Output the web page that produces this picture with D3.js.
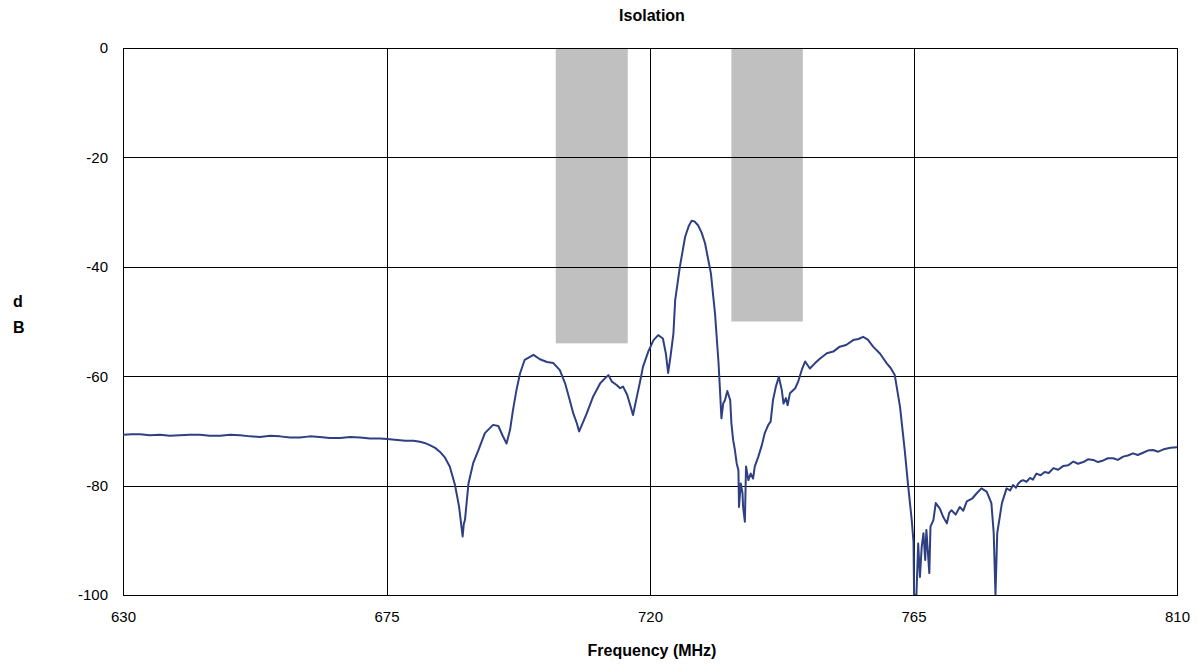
<!DOCTYPE html>
<html>
<head>
<meta charset="utf-8">
<script src="https://cdn.jsdelivr.net/npm/d3@7/dist/d3.min.js"></script>
<style>
  body { margin: 0; background: #fff; }
  svg { display: block; font-family: "Liberation Sans", Arial, sans-serif; }
  .tick text { font-size: 15px; fill: #000; }
  .title { font-size: 16px; font-weight: bold; }
</style>
</head>
<body>
<svg id="chart"></svg>
<script>
const freqMHz = [
  630.0, 631.5, 632.9, 634.6, 636.3, 638.0, 639.7, 641.4, 643.1, 644.8,
  646.6, 648.3, 650.0, 651.7, 653.4, 655.1, 656.8, 658.5, 660.2, 661.9,
  663.6, 665.3, 667.1, 668.8, 670.5, 672.2, 673.9, 675.1, 676.4, 678.2,
  679.6, 680.7, 681.5, 682.4, 683.3, 684.1, 685.0, 685.8, 686.7, 687.4,
  687.7, 688.0, 688.2, 688.4, 689.0, 689.8, 690.7, 691.8, 693.2, 694.1,
  694.8, 695.5, 696.1, 696.6, 697.2, 697.8, 698.6, 700.1, 701.2, 702.4,
  703.5, 704.6, 705.5, 706.3, 706.9, 707.5, 707.9, 708.3, 709.2, 710.3,
  711.5, 712.3, 712.9, 713.5, 714.3, 714.9, 715.4, 716.1, 716.7, 717.1,
  717.7, 718.3, 718.8, 719.7, 720.6, 721.4, 722.2, 722.7, 723.1, 723.5,
  724.0, 724.3, 725.1, 726.0, 726.6, 727.1, 727.6, 728.2, 728.8, 729.4,
  730.4, 731.1, 731.7,
  731.95, 732.2, 732.5, 732.8, 733.2, 733.7, 733.9, 734.2, 734.5, 734.8,
  735.1, 735.2, 735.5, 735.8, 735.9, 736.2, 736.4, 736.8, 737.2, 737.6,
  737.9, 738.5, 739.1, 739.6, 740.2, 740.6, 741.0, 741.5, 742.0, 742.5,
  742.8, 743.2, 743.5, 743.9, 744.8, 745.3, 745.9, 746.5, 747.3, 748.2,
  749.0, 750.2, 751.3, 752.4, 753.5, 754.7, 755.6, 756.4, 757.2, 758.1,
  759.3, 760.4, 761.1, 761.8, 762.7, 763.5, 764.1, 764.7, 765.0, 765.1,
  765.5, 765.8, 766.1, 766.4, 766.7, 767.0, 767.2, 767.7, 767.9, 768.4,
  768.8, 769.5, 770.1, 770.7, 771.1, 771.5, 772.2, 772.9, 773.5, 774.1,
  775.0, 775.8, 776.6, 777.5, 778.3, 778.7, 779.0, 779.3, 780.1, 780.9,
  781.5, 782.0, 782.5, 782.9, 783.3, 783.7, 784.3, 784.9, 785.4, 786.0,
  786.7, 787.4, 788.1, 788.9, 789.7, 790.6, 791.4, 792.3, 793.1, 794.0,
  794.8, 795.7, 796.5, 797.4, 798.2, 799.1, 799.9, 800.8, 801.6, 802.5,
  803.3, 804.2, 805.0, 805.9, 806.8, 807.9, 808.9, 810.0
];
const isolationDb = [
  -70.7, -70.6, -70.6, -70.8, -70.7, -70.9, -70.8, -70.7, -70.7, -70.9,
  -70.9, -70.7, -70.8, -71.0, -71.1, -70.9, -71.0, -71.2, -71.2, -71.0,
  -71.1, -71.3, -71.3, -71.1, -71.2, -71.4, -71.4, -71.5, -71.6, -71.8,
  -71.8, -72.0, -72.2, -72.6, -73.1, -73.8, -74.9, -76.5, -79.9, -83.9,
  -86.6, -89.3, -87.0, -86.3, -79.6, -75.9, -73.5, -70.4, -68.9, -69.1,
  -70.8, -72.3, -69.8, -66.2, -62.5, -59.5, -57.0, -56.1, -56.9, -57.4,
  -57.6, -58.9, -61.3, -64.4, -66.8, -68.6, -70.1, -69.1, -66.8, -63.7,
  -61.3, -60.4, -59.8, -61.0, -61.6, -62.2, -61.9, -63.4, -65.6, -67.1,
  -64.0, -61.0, -58.3, -55.5, -53.4, -52.5, -53.1, -55.8, -59.4, -56.4,
  -52.2, -46.1, -40.0, -34.5, -32.6, -31.6, -31.7, -32.4, -33.7, -35.7,
  -41.2, -48.5, -57.5,
  -62.5, -67.7, -65.0, -64.4, -62.7, -64.4, -68.6, -71.7, -73.5, -75.9,
  -77.2, -83.9, -79.6, -81.4, -83.9, -86.6, -76.5, -79.0, -77.8, -78.7,
  -76.5, -74.7, -72.6, -70.4, -68.9, -68.3, -64.4, -61.9, -60.1, -62.5,
  -65.0, -64.0, -65.3, -63.1, -62.2, -61.0, -58.9, -57.3, -58.6, -57.6,
  -56.8, -55.8, -55.5, -54.6, -54.3, -53.4, -53.2, -52.8, -53.3, -54.6,
  -55.9, -57.6, -58.5, -59.8, -65.6, -73.5, -80.2, -86.3, -90.3, -100,
  -100, -90.6, -96.7, -91.2, -88.7, -93.6, -88.1, -96.0, -87.5, -86.3,
  -83.2, -84.2, -85.8, -86.9, -85.0, -84.5, -85.3, -83.9, -84.6, -82.9,
  -82.4, -81.4, -80.5, -81.1, -83.2, -88.7, -100, -88.7, -83.2, -80.5,
  -80.9, -79.9, -80.4, -79.6, -79.2, -79.0, -79.3, -78.6, -78.9, -77.8,
  -78.1, -77.5, -77.7, -76.8, -77.1, -76.4, -76.3, -75.6, -76.0, -75.7,
  -75.2, -75.3, -75.7, -75.4, -75.0, -75.0, -75.3, -74.7, -74.5, -74.1,
  -74.4, -74.0, -73.6, -73.5, -73.8, -73.3, -73.1, -73.0
];

// shaded pass bands
const bandStart = [703.9, 733.9];
const bandEnd = [716.2, 746.1];
const bandFloor = [-54, -50];

const xTicks = [630, 675, 720, 765, 810];
const yTicks = [0, -20, -40, -60, -80, -100];

const width = 1197;
const height = 666;
const margin = { top: 48, right: 20, bottom: 71, left: 123 };
const innerW = width - margin.left - margin.right;
const innerH = height - margin.top - margin.bottom;

const svg = d3.select('#chart')
    .attr('width', width)
    .attr('height', height);

const g = svg.append('g')
    .attr('transform', `translate(${margin.left},${margin.top})`);

const x = d3.scaleLinear().domain([630, 810]).range([0, innerW]);
const y = d3.scaleLinear().domain([-100, 0]).range([innerH, 0]);

g.append('defs').append('clipPath')
    .attr('id', 'plot-clip')
    .append('rect')
    .attr('width', innerW)
    .attr('height', innerH);

// bands
g.selectAll('.band')
    .data(bandStart.map((s, i) => ({ s, e: bandEnd[i], floor: bandFloor[i] })))
    .enter()
    .append('rect')
    .attr('class', 'band')
    .attr('x', d => x(d.s))
    .attr('y', y(0))
    .attr('width', d => x(d.e) - x(d.s))
    .attr('height', d => y(d.floor) - y(0))
    .attr('fill', '#c0c0c0');

// grid lines
g.append('g')
    .attr('transform', `translate(0,${innerH})`)
    .call(d3.axisBottom(x).tickValues(xTicks).tickSize(-innerH).tickFormat(''))
    .call(ax => ax.select('.domain').remove())
    .selectAll('line')
    .attr('stroke', '#000')
    .attr('shape-rendering', 'crispEdges');

g.append('g')
    .call(d3.axisLeft(y).tickValues(yTicks).tickSize(-innerW).tickFormat(''))
    .call(ax => ax.select('.domain').remove())
    .selectAll('line')
    .attr('stroke', '#000')
    .attr('shape-rendering', 'crispEdges');

// plot frame
g.append('rect')
    .attr('width', innerW)
    .attr('height', innerH)
    .attr('fill', 'none')
    .attr('stroke', '#000')
    .attr('shape-rendering', 'crispEdges');

// trace
const line = d3.line()
    .x((d, i) => x(freqMHz[i]))
    .y(d => y(d));

g.append('path')
    .datum(isolationDb)
    .attr('clip-path', 'url(#plot-clip)')
    .attr('fill', 'none')
    .attr('stroke', '#2e4082')
    .attr('stroke-width', 2)
    .attr('stroke-linejoin', 'round')
    .attr('d', line);

// tick labels (plain hyphen minus, as in the original)
g.append('g')
    .attr('transform', `translate(0,${innerH})`)
    .call(d3.axisBottom(x).tickValues(xTicks).tickSize(0).tickPadding(16).tickFormat(d => String(d)))
    .call(ax => ax.select('.domain').remove())
    .selectAll('text')
    .attr('font-family', null)
    .attr('font-size', null);

g.append('g')
    .call(d3.axisLeft(y).tickValues(yTicks).tickSize(0).tickPadding(15).tickFormat(d => String(d)))
    .call(ax => ax.select('.domain').remove())
    .selectAll('text')
    .attr('font-family', null)
    .attr('font-size', null);

// titles
svg.append('text')
    .attr('class', 'title')
    .attr('x', 652)
    .attr('y', 21)
    .attr('text-anchor', 'middle')
    .text('Isolation');

svg.append('text')
    .attr('class', 'title')
    .attr('x', 652)
    .attr('y', 656)
    .attr('text-anchor', 'middle')
    .text('Frequency (MHz)');

svg.append('text')
    .attr('class', 'title')
    .attr('x', 13)
    .attr('y', 307)
    .text('d');

svg.append('text')
    .attr('class', 'title')
    .attr('x', 13)
    .attr('y', 333)
    .text('B');
</script>
</body>
</html>
